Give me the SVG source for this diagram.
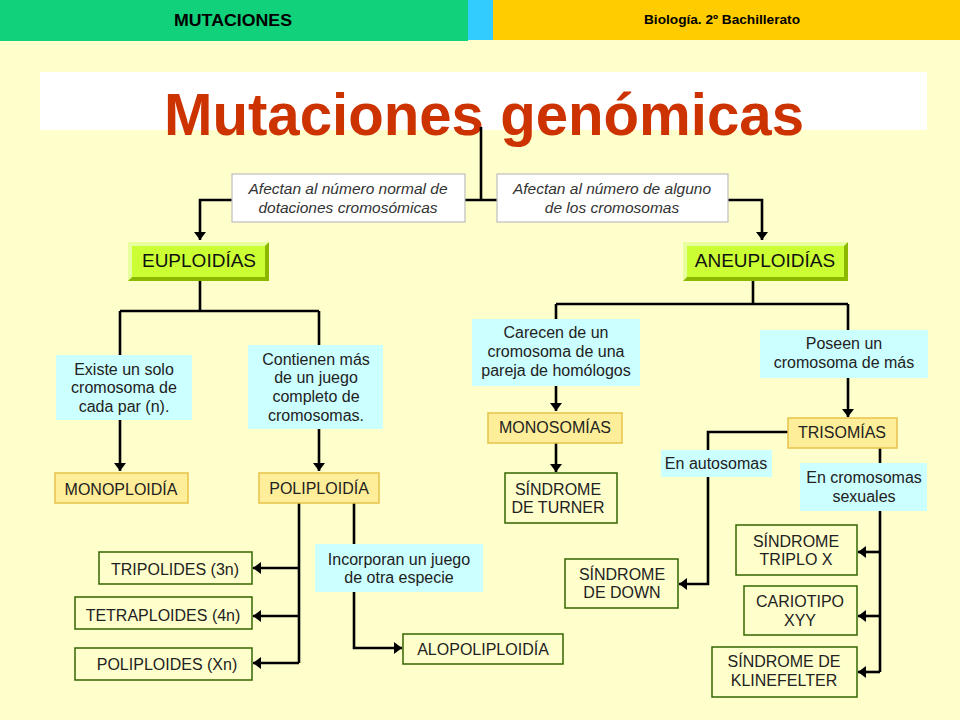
<svg xmlns="http://www.w3.org/2000/svg" width="960" height="720" viewBox="0 0 960 720">
<defs>
<marker id="ah" markerUnits="userSpaceOnUse" markerWidth="9" markerHeight="13" refX="8" refY="6" orient="auto">
<path d="M0,0 L8,6 L0,12 z" fill="#000"/>
</marker>
<style>
text{font-family:"Liberation Sans",Arial,sans-serif;}
.t{font-size:16px;fill:#222;text-anchor:middle;}
.it{font-size:15.5px;fill:#333;font-style:italic;text-anchor:middle;}
.cy{fill:#CCFFFF;}
.yb{fill:#FFEE99;stroke:#E6C24A;stroke-width:1.5;}
.gb{fill:#FFFFCC;stroke:#336600;stroke-width:1.5;}
.wb{fill:#FFFFFF;stroke:#BDBDBD;stroke-width:1.2;}
.ln{fill:none;stroke:#000;stroke-width:2.6;}
.ar{fill:none;stroke:#000;stroke-width:2.6;marker-end:url(#ah);}
.lime{fill:#CCFF33;}
.lt{fill:#E8FF9E;}
.dk{fill:#8DB800;}
.big{font-size:19px;fill:#111;text-anchor:middle;}
</style>
</defs>
<rect x="0" y="0" width="960" height="720" fill="#FFFFCC"/>
<g id="header">
<rect x="0" y="0" width="468" height="41" fill="#11D27A"/>
<rect x="468" y="0" width="25" height="40" fill="#33CCFF"/>
<rect x="493" y="0" width="467" height="40" fill="#FFCC00"/>
<text x="233" y="26" font-size="17" font-weight="bold" text-anchor="middle" textLength="118" lengthAdjust="spacingAndGlyphs" fill="#000">MUTACIONES</text>
<text x="722" y="24" font-size="13" font-weight="bold" text-anchor="middle" textLength="156" lengthAdjust="spacingAndGlyphs" fill="#000">Biología. 2º Bachillerato</text>
</g>
<g id="title">
<rect x="40" y="72" width="887" height="58" fill="#FFFFFF"/>
<text x="484" y="135" font-size="60" font-weight="bold" text-anchor="middle" textLength="640" lengthAdjust="spacingAndGlyphs" fill="#CC3300">Mutaciones genómicas</text>
</g>
<g id="connectors">
<path class="ln" d="M481,127 V200"/>
<path class="ar" d="M481,200 H200 V240"/>
<path class="ar" d="M481,200 H762 V240"/>
<path class="ln" d="M200,281 V311 M120,311 H319 M120,311 V355 M319,311 V345"/>
<path class="ar" d="M120,420 V471"/>
<path class="ar" d="M319,429 V471"/>
<path class="ln" d="M299,503 V663"/>
<path class="ar" d="M299,568 H253"/>
<path class="ar" d="M299,616 H253"/>
<path class="ar" d="M299,663 H253"/>
<path class="ar" d="M354,503 V648 H402"/>
<path class="ln" d="M753,281 V304 M556,304 H848 M556,304 V319 M848,304 V330"/>
<path class="ar" d="M556,386 V411"/>
<path class="ar" d="M556,443 V472"/>
<path class="ar" d="M848,378 V417"/>
<path class="ar" d="M788,432 H708 V584 H679"/>
<path class="ln" d="M880,448 V672"/>
<path class="ar" d="M880,552 H858"/>
<path class="ar" d="M880,616 H858"/>
<path class="ar" d="M880,672 H858"/>
</g>
<g id="n-afectan-normal">
<rect class="wb" x="232" y="174" width="233" height="48"/>
<text class="it" x="348" y="194">Afectan al número normal de</text>
<text class="it" x="348" y="213">dotaciones cromosómicas</text>
</g>
<g id="n-afectan-alguno">
<rect class="wb" x="497" y="174" width="231" height="48"/>
<text class="it" x="612" y="194">Afectan al número de alguno</text>
<text class="it" x="612" y="213">de los cromosomas</text>
</g>
<g id="n-euploidias">
<rect class="dk" x="128" y="242" width="141" height="39"/>
<polygon class="lt" points="128,242 269,242 265,246 132,246 132,277 128,281"/>
<rect class="lime" x="132" y="246" width="133" height="31"/>
<text class="big" x="199" y="267">EUPLOIDÍAS</text>
</g>
<g id="n-aneuploidias">
<rect class="dk" x="683" y="242" width="165" height="39"/>
<polygon class="lt" points="683,242 848,242 844,246 687,246 687,277 683,281"/>
<rect class="lime" x="687" y="246" width="157" height="31"/>
<text class="big" x="765" y="267">ANEUPLOIDÍAS</text>
</g>
<g id="n-existe">
<rect class="cy" x="56" y="355" width="136" height="65"/>
<text class="t" x="124" y="375">Existe un solo</text>
<text class="t" x="124" y="393">cromosoma de</text>
<text class="t" x="124" y="412">cada par (n).</text>
</g>
<g id="n-contienen">
<rect class="cy" x="248" y="345" width="135" height="84"/>
<text class="t" x="316" y="365">Contienen más</text>
<text class="t" x="316" y="383">de un juego</text>
<text class="t" x="316" y="402">completo de</text>
<text class="t" x="316" y="421">cromosomas.</text>
</g>
<g id="n-monoploidia">
<rect class="yb" x="55" y="473" width="133" height="30"/>
<text class="t" x="121" y="495">MONOPLOIDÍA</text>
</g>
<g id="n-poliploidia">
<rect class="yb" x="259" y="473" width="120" height="30"/>
<text class="t" x="319" y="494">POLIPLOIDÍA</text>
</g>
<g id="n-tripolides">
<rect class="gb" x="99" y="552" width="153" height="32"/>
<text class="t" x="175" y="575">TRIPOLIDES (3n)</text>
</g>
<g id="n-tetraploides">
<rect class="gb" x="75" y="597" width="177" height="32"/>
<text class="t" x="163" y="621">TETRAPLOIDES (4n)</text>
</g>
<g id="n-poliploides">
<rect class="gb" x="75" y="648" width="177" height="32"/>
<text class="t" x="167" y="670">POLIPLOIDES (Xn)</text>
</g>
<g id="n-incorporan">
<rect class="cy" x="315" y="544" width="168" height="48"/>
<text class="t" x="399" y="565">Incorporan un juego</text>
<text class="t" x="399" y="583">de otra especie</text>
</g>
<g id="n-alopoliploidia">
<rect class="gb" x="403" y="634" width="160" height="30"/>
<text class="t" x="483" y="655">ALOPOLIPLOIDÍA</text>
</g>
<g id="n-carecen">
<rect class="cy" x="472" y="319" width="168" height="67"/>
<text class="t" x="556" y="338">Carecen de un</text>
<text class="t" x="556" y="357">cromosoma de una</text>
<text class="t" x="556" y="376">pareja de homólogos</text>
</g>
<g id="n-poseen">
<rect class="cy" x="760" y="330" width="168" height="48"/>
<text class="t" x="844" y="349">Poseen un</text>
<text class="t" x="844" y="368">cromosoma de más</text>
</g>
<g id="n-monosomias">
<rect class="yb" x="488" y="413" width="134" height="30"/>
<text class="t" x="555" y="433">MONOSOMÍAS</text>
</g>
<g id="n-turner">
<rect class="gb" x="505" y="473" width="112" height="50"/>
<text class="t" x="558" y="495">SÍNDROME</text>
<text class="t" x="558" y="513">DE TURNER</text>
</g>
<g id="n-trisomias">
<rect class="yb" x="788" y="418" width="109" height="30"/>
<text class="t" x="842" y="438">TRISOMÍAS</text>
</g>
<g id="n-autosomas">
<rect class="cy" x="661" y="450" width="111" height="27"/>
<text class="t" x="716" y="469">En autosomas</text>
</g>
<g id="n-sexuales">
<rect class="cy" x="800" y="463" width="127" height="48"/>
<text class="t" x="864" y="483">En cromosomas</text>
<text class="t" x="864" y="502">sexuales</text>
</g>
<g id="n-down">
<rect class="gb" x="565" y="559" width="113" height="49"/>
<text class="t" x="622" y="580">SÍNDROME</text>
<text class="t" x="622" y="598">DE DOWN</text>
</g>
<g id="n-triplox">
<rect class="gb" x="736" y="525" width="121" height="50"/>
<text class="t" x="796" y="547">SÍNDROME</text>
<text class="t" x="796" y="565">TRIPLO X</text>
</g>
<g id="n-xyy">
<rect class="gb" x="744" y="586" width="113" height="49"/>
<text class="t" x="800" y="607">CARIOTIPO</text>
<text class="t" x="800" y="626">XYY</text>
</g>
<g id="n-klinefelter">
<rect class="gb" x="712" y="647" width="145" height="50"/>
<text class="t" x="784" y="667">SÍNDROME DE</text>
<text class="t" x="784" y="686">KLINEFELTER</text>
</g>
</svg>
